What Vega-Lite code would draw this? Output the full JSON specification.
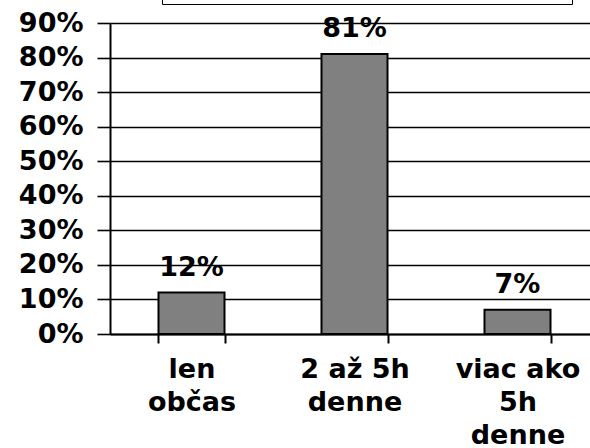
{
  "$schema": "https://vega.github.io/schema/vega-lite/v6.json",
  "width": 480,
  "height": 311,
  "autosize": {"type": "none"},
  "padding": {"left": 110, "top": 23, "right": 0, "bottom": 114},
  "background": "white",
  "config": {"view": {"stroke": null}, "font": "DejaVu Sans"},
  "data": {
    "values": [
      {"kategoria": "len občas", "podiel": 0.12},
      {"kategoria": "2 až 5h denne", "podiel": 0.81},
      {"kategoria": "viac ako 5h denne", "podiel": 0.07}
    ]
  },
  "encoding": {
    "x": {
      "field": "kategoria",
      "type": "nominal",
      "sort": null,
      "scale": {"range": [0, 489], "paddingInner": 0.595, "paddingOuter": 0.2975},
      "axis": {
        "title": null,
        "labelAngle": 0,
        "ticks": true,
        "tickBand": "extent",
        "tickExtra": true,
        "tickOpacity": 1,
        "domainColor": "black",
        "domainWidth": 2,
        "tickColor": "black",
        "tickWidth": 2,
        "tickSize": 9,
        "labelFont": "DejaVu Sans",
        "labelFontWeight": "bold",
        "labelFontSize": 27,
        "labelColor": "black",
        "labelLineHeight": 33,
        "labelPadding": 13,
        "labelLimit": 0,
        "labelBaseline": "top",
        "labelExpr": "datum.label == 'len občas' ? ['len', 'občas'] : datum.label == '2 až 5h denne' ? ['2 až 5h', 'denne'] : datum.label == 'viac ako 5h denne' ? ['viac ako', '5h', 'denne'] : ''"
      }
    },
    "y": {
      "field": "podiel",
      "type": "quantitative",
      "scale": {"domain": [0, 0.9], "nice": false},
      "axis": {
        "title": null,
        "values": [0, 0.1, 0.2, 0.3, 0.4, 0.5, 0.6, 0.7, 0.8, 0.9],
        "format": ".0%",
        "grid": true,
        "gridColor": "black",
        "gridWidth": 1.6,
        "gridOpacity": 1,
        "domainColor": "black",
        "domainWidth": 2,
        "tickColor": "black",
        "tickWidth": 1.6,
        "tickSize": 13,
        "labelPadding": 14,
        "labelFont": "DejaVu Sans",
        "labelFontWeight": "bold",
        "labelFontSize": 27,
        "labelColor": "black"
      }
    }
  },
  "layer": [
    {
      "mark": {"type": "bar", "stroke": "black", "strokeWidth": 2},
      "encoding": {
        "color": {
          "datum": "Rad 1",
          "type": "nominal",
          "scale": {"range": ["#808080"]},
          "legend": {
            "orient": "none",
            "legendX": 52,
            "legendY": -49,
            "title": null,
            "strokeColor": "black",
            "fillColor": "white",
            "padding": 5,
            "symbolType": "square",
            "symbolSize": 100,
            "labelOffset": 380,
            "labelFontSize": 20,
            "labelExpr": "''",
            "encode": {"legend": {"update": {"strokeWidth": {"value": 1.6}}}}
          }
        }
      }
    },
    {
      "mark": {
        "type": "text",
        "dy": -17,
        "baseline": "alphabetic",
        "font": "DejaVu Sans",
        "fontWeight": "bold",
        "fontSize": 27,
        "color": "black"
      },
      "encoding": {
        "text": {"field": "podiel", "type": "quantitative", "format": ".0%"}
      }
    }
  ]
}
